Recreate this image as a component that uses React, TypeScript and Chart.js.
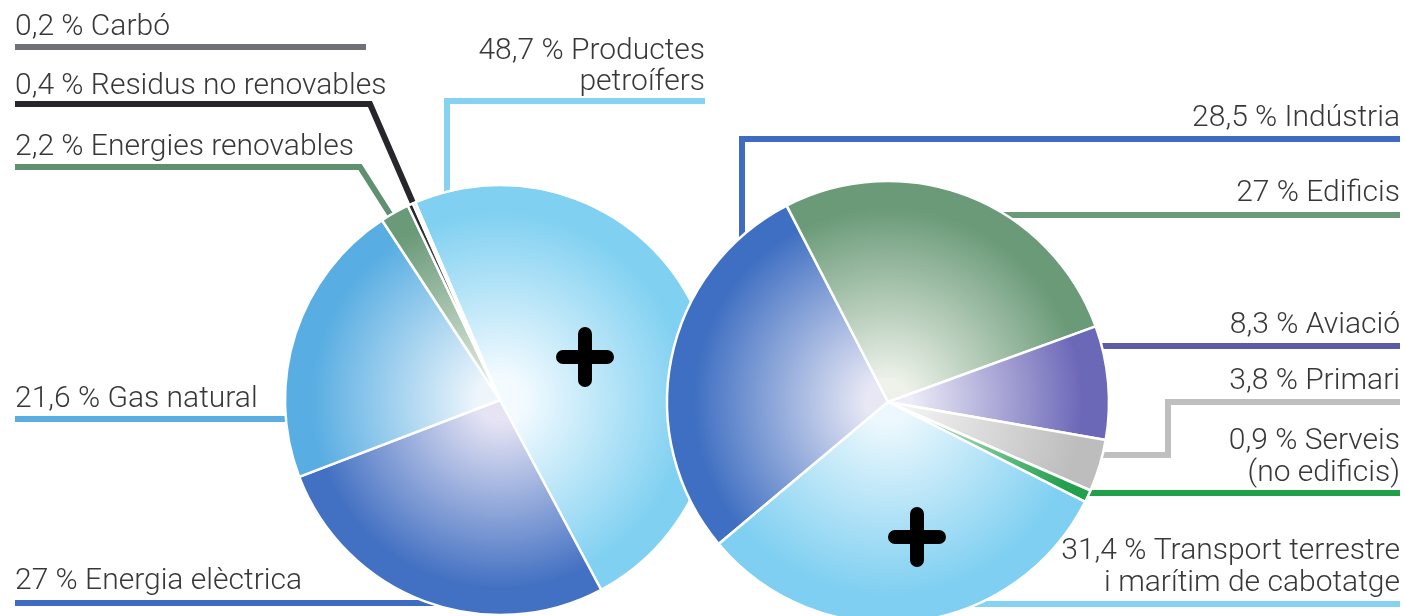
import React, { useEffect, useRef } from 'react';
import { Chart, registerables } from 'chart.js';

Chart.register(...registerables);

// ---------- DATA ----------
const leftCategories = ['Productes petroífers', 'Energia elèctrica', 'Gas natural', 'Energies renovables', 'Residus no renovables', 'Carbó'];
const leftValues = [48.7, 27, 21.6, 2.2, 0.4, 0.2];
const leftNameLines = [['Productes', 'petroífers'], ['Energia elèctrica'], ['Gas natural'], ['Energies renovables'], ['Residus no renovables'], ['Carbó']];

const rightCategories = ['Indústria', 'Edificis', 'Aviació', 'Primari', 'Serveis (no edificis)', 'Transport terrestre i marítim de cabotatge'];
const rightValues = [28.5, 27, 8.3, 3.8, 0.9, 31.4];
const rightNameLines = [['Indústria'], ['Edificis'], ['Aviació'], ['Primari'], ['Serveis', '(no edificis)'], ['Transport terrestre', 'i marítim de cabotatge']];

// ---------- STYLES / LAYOUT ----------
const W = 1405;
const H = 616;
const FONT = '300 30px Roboto';
const TEXT_COLOR = '#383838';
const TEXT_DY = 3;

const leftOuter = ['#7fd0f1', '#4270c2', '#58ade2', '#6a9a78', '#2a2a30', '#6f7377'];
const leftInner = ['#f4fbff', '#e6e4f4', '#eef6fc', '#dfe9e0', '#b8b8bc', '#d0d0d0'];
const leftLineColors = ['#86d2f1', '#3f6cc0', '#5aaee2', '#5f9070', '#26262c', '#6e7175'];

const rightOuter = ['#3f6fc2', '#6a9a78', '#6c68b8', '#bdbdbd', '#22a04c', '#7ecff1'];
const rightInner = ['#e8e8f5', '#eef2ea', '#edecf7', '#f2f2f2', '#cbe9d3', '#ecf8fd'];
const rightLineColors = ['#3f6cc0', '#6a9a78', '#5e5aaa', '#bfbfbf', '#1fa04a', '#86d2f1'];

type Leader = { tx: number; ty: number[]; align: CanvasTextAlign; path: number[][] };

const leftLeaders: Leader[] = [
  { tx: 705, ty: [48, 79], align: 'right', path: [[705, 101], [447, 101], [447, 215]] },
  { tx: 15, ty: [578], align: 'left', path: [[15, 603], [450, 603]] },
  { tx: 15, ty: [396], align: 'left', path: [[15, 419], [310, 419]] },
  { tx: 15, ty: [144], align: 'left', path: [[15, 167], [360, 167], [395, 222]] },
  { tx: 15, ty: [83], align: 'left', path: [[15, 104], [370, 104], [416, 210]] },
  { tx: 15, ty: [24], align: 'left', path: [[15, 47], [366, 47]] },
];

const rightLeaders: Leader[] = [
  { tx: 1400, ty: [115], align: 'right', path: [[1400, 139], [742, 139], [742, 255]] },
  { tx: 1400, ty: [190], align: 'right', path: [[1400, 215], [990, 215]] },
  { tx: 1400, ty: [322], align: 'right', path: [[1400, 346], [1085, 346]] },
  { tx: 1400, ty: [378], align: 'right', path: [[1400, 402], [1168, 402], [1168, 455], [1090, 455]] },
  { tx: 1400, ty: [438, 470], align: 'right', path: [[1400, 493], [1075, 493]] },
  { tx: 1400, ty: [548, 580], align: 'right', path: [[1400, 604], [960, 604]] },
];

const fmt = (v: number) => String(v).replace('.', ',') + ' % ';

function makePie(
  canvas: HTMLCanvasElement,
  categories: string[],
  values: number[],
  nameLines: string[][],
  outer: string[],
  inner: string[],
  lineColors: string[],
  leaders: Leader[],
  padding: { left: number; right: number; top: number; bottom: number },
  radius: number,
  rotation: number,
  plus: number[]
) {
  const gradientFor = (context: any) => {
    const chart = context.chart;
    const area = chart.chartArea;
    const i = context.dataIndex;
    if (!area) return outer[i];
    const cx = (area.left + area.right) / 2;
    const cy = (area.top + area.bottom) / 2;
    const g = chart.ctx.createRadialGradient(cx, cy, 0, cx, cy, radius);
    g.addColorStop(0, inner[i]);
    g.addColorStop(0.1, inner[i]);
    g.addColorStop(0.88, outer[i]);
    g.addColorStop(1, outer[i]);
    return g;
  };

  const decor = {
    id: 'decor',
    beforeDatasetsDraw(chart: any) {
      const ctx = chart.ctx as CanvasRenderingContext2D;
      ctx.save();
      ctx.lineWidth = 6;
      ctx.lineJoin = 'miter';
      ctx.lineCap = 'butt';
      leaders.forEach((ld, i) => {
        ctx.strokeStyle = lineColors[i];
        ctx.beginPath();
        ld.path.forEach((p, k) => (k === 0 ? ctx.moveTo(p[0], p[1]) : ctx.lineTo(p[0], p[1])));
        ctx.stroke();
      });
      ctx.font = FONT;
      ctx.fillStyle = TEXT_COLOR;
      ctx.textBaseline = 'middle';
      leaders.forEach((ld, i) => {
        ctx.textAlign = ld.align;
        nameLines[i].forEach((t, k) => {
          const s = k === 0 ? fmt(values[i]) + t : t;
          ctx.fillText(s, ld.tx, ld.ty[k] + TEXT_DY);
        });
      });
      ctx.restore();
    },
    afterDatasetsDraw(chart: any) {
      const ctx = chart.ctx as CanvasRenderingContext2D;
      ctx.save();
      ctx.strokeStyle = '#000';
      ctx.lineWidth = 14;
      ctx.lineCap = 'round';
      ctx.beginPath();
      ctx.moveTo(plus[0] - 22, plus[1]);
      ctx.lineTo(plus[0] + 22, plus[1]);
      ctx.moveTo(plus[0], plus[1] - 23);
      ctx.lineTo(plus[0], plus[1] + 23);
      ctx.stroke();
      ctx.restore();
    },
  };

  return new Chart(canvas, {
    type: 'pie',
    data: {
      labels: categories,
      datasets: [
        {
          data: values,
          backgroundColor: gradientFor as any,
          borderColor: '#ffffff',
          borderWidth: 2.5,
        },
      ],
    },
    options: {
      responsive: false,
      animation: false,
      devicePixelRatio: 1,
      rotation,
      radius,
      layout: { padding },
      plugins: {
        legend: { display: false },
        tooltip: { enabled: false },
        title: { display: false },
      },
      events: [],
    } as any,
    plugins: [decor],
  });
}

export default function App() {
  const leftRef = useRef<HTMLCanvasElement>(null);
  const rightRef = useRef<HTMLCanvasElement>(null);

  useEffect(() => {
    const left = makePie(
      leftRef.current!,
      leftCategories,
      leftValues,
      leftNameLines,
      leftOuter,
      leftInner,
      leftLineColors,
      leftLeaders,
      { left: 0, right: 405, top: 184, bottom: 0 },
      215,
      -23.2,
      [585, 357]
    );
    const right = makePie(
      rightRef.current!,
      rightCategories,
      rightValues,
      rightNameLines,
      rightOuter,
      rightInner,
      rightLineColors,
      rightLeaders,
      { left: 371, right: 0, top: 188, bottom: 0 },
      221,
      230,
      [917, 537]
    );
    return () => {
      left.destroy();
      right.destroy();
    };
  }, []);

  return (
    <div style={{ position: 'fixed', left: 0, top: 0, width: W, height: H, background: '#ffffff' }}>
      <canvas ref={leftRef} width={W} height={H} style={{ position: 'absolute', left: 0, top: 0 }} />
      <canvas ref={rightRef} width={W} height={H} style={{ position: 'absolute', left: 0, top: 0 }} />
    </div>
  );
}
